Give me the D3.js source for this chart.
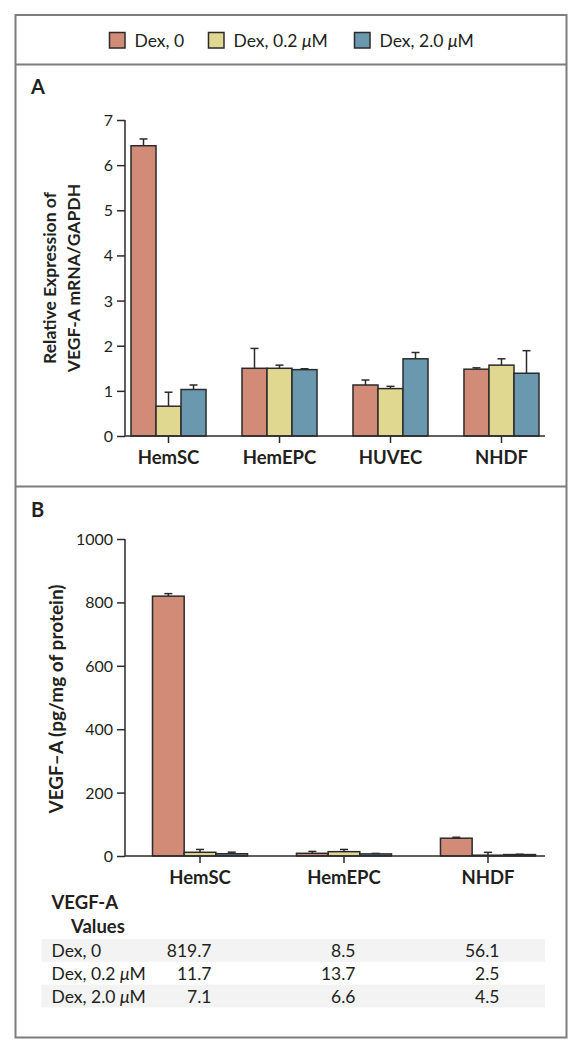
<!DOCTYPE html>
<html>
<head>
<meta charset="utf-8">
<script src="https://cdn.jsdelivr.net/npm/d3@7"></script>
<style>
  html, body { margin: 0; padding: 0; background: #fff; }
  svg { display: block; }
  text { font-family: Lato, "Open Sans", "DejaVu Sans", sans-serif; fill: #231f20; }
</style>
</head>
<body>
<svg id="chart" width="580" height="1050"></svg>
<script>
// ---------------- DATA ----------------
const seriesNames = ["Dex, 0", "Dex, 0.2 μM", "Dex, 2.0 μM"];
const seriesColors = ["#d18b77", "#e0d790", "#6a98ae"];

// Panel A: relative expression of VEGF-A mRNA/GAPDH
const cellsA = ["HemSC", "HemEPC", "HUVEC", "NHDF"];
const mrnaDex0 = [6.43, 1.50, 1.13, 1.48];
const mrnaDex02 = [0.66, 1.50, 1.05, 1.57];
const mrnaDex20 = [1.03, 1.47, 1.71, 1.39];
const mrnaErrDex0 = [0.15, 0.44, 0.11, 0.03];
const mrnaErrDex02 = [0.31, 0.07, 0.05, 0.14];
const mrnaErrDex20 = [0.10, 0.02, 0.14, 0.50];
const ticksA = [0, 1, 2, 3, 4, 5, 6, 7];

// Panel B: VEGF-A protein (pg/mg of protein)
const cellsB = ["HemSC", "HemEPC", "NHDF"];
const vegfDex0 = [819.7, 8.5, 56.1];
const vegfDex02 = [11.7, 13.7, 2.5];
const vegfDex20 = [7.1, 6.6, 4.5];
const vegfErrDex0 = [8, 6, 3];
const vegfErrDex02 = [9, 7, 9];
const vegfErrDex20 = [5, 1.5, 1];
const ticksB = [0, 200, 400, 600, 800, 1000];

const tableTitle = ["VEGF-A", "Values"];

// ---------------- HELPERS ----------------
const svg = d3.select("#chart");
const ink = "#2b2b2b";

function richText(sel, str) {
  // italicise the micro sign
  const parts = str.split("μ");
  parts.forEach((p, i) => {
    if (p) sel.append("tspan").text(p);
    if (i < parts.length - 1) sel.append("tspan").attr("font-style", "italic").text("μ");
  });
}

// ---------------- FRAME ----------------
const frame = { x0: 15.5, y0: 15, x1: 566.5, y1: 1037.5 };
svg.append("rect")
  .attr("x", frame.x0).attr("y", frame.y0)
  .attr("width", frame.x1 - frame.x0).attr("height", frame.y1 - frame.y0)
  .attr("fill", "none").attr("stroke", "#7d7d7d").attr("stroke-width", 2);
[64.5, 486.5].forEach(y => {
  svg.append("line").attr("x1", frame.x0).attr("x2", frame.x1)
    .attr("y1", y).attr("y2", y).attr("stroke", "#7d7d7d").attr("stroke-width", 2);
});

// ---------------- LEGEND ----------------
const legendX = [109.5, 208.5, 354.5];
const legend = svg.append("g");
seriesNames.forEach((name, i) => {
  legend.append("rect")
    .attr("x", legendX[i]).attr("y", 32.5).attr("width", 15.5).attr("height", 15.5)
    .attr("fill", seriesColors[i]).attr("stroke", ink).attr("stroke-width", 1.5);
  const t = legend.append("text")
    .attr("x", legendX[i] + 25).attr("y", 46.5)
    .attr("font-size", 17.5);
  richText(t, name);
});

// ---------------- GENERIC BAR PANEL ----------------
function drawPanel(opts) {
  const g = svg.append("g");
  const y = d3.scaleLinear().domain(opts.domain).range([opts.yBottom, opts.yTop]);
  const x0 = d3.scaleBand().domain(opts.cats).range(opts.bandRange)
    .paddingInner(opts.paddingInner).paddingOuter(0);
  const x1 = d3.scaleBand().domain(d3.range(3)).range([0, x0.bandwidth()]);

  // panel letter
  g.append("text").attr("x", 31).attr("y", opts.letterY)
    .attr("font-size", 20).attr("font-weight", "bold").text(opts.letter);

  // bars
  opts.series.forEach((vals, s) => {
    const errs = opts.errors[s];
    opts.cats.forEach((c, i) => {
      const bx = x0(c) + x1(s);
      const cx = bx + x1.bandwidth() / 2;
      // error bar (upper only)
      g.append("line").attr("x1", cx).attr("x2", cx)
        .attr("y1", y(vals[i])).attr("y2", y(vals[i] + errs[i]))
        .attr("stroke", ink).attr("stroke-width", 1.5);
      g.append("line").attr("x1", cx - 4).attr("x2", cx + 4)
        .attr("y1", y(vals[i] + errs[i])).attr("y2", y(vals[i] + errs[i]))
        .attr("stroke", ink).attr("stroke-width", 1.5);
      g.append("rect")
        .attr("x", bx).attr("y", y(vals[i]))
        .attr("width", x1.bandwidth()).attr("height", y(0) - y(vals[i]))
        .attr("fill", seriesColors[s]).attr("stroke", ink).attr("stroke-width", 1.5);
    });
  });

  // y axis
  const yAxis = d3.axisLeft(y).tickValues(opts.ticks).tickSize(8).tickPadding(4)
    .tickFormat(d3.format("d"));
  const ya = g.append("g").attr("transform", `translate(${opts.axisX},0)`).call(yAxis);
  ya.select(".domain").attr("stroke", ink).attr("stroke-width", 1.5)
    .attr("d", `M0,${opts.yTop}V${opts.yBottom}`);
  ya.selectAll(".tick line").attr("stroke", ink).attr("stroke-width", 1.5);
  ya.selectAll(".tick text").attr("font-size", 16).attr("font-family", "Lato, sans-serif")
    .attr("fill", "#231f20").attr("dy", "0.34em");

  // x axis line
  g.append("line").attr("x1", opts.axisX).attr("x2", opts.axisXEnd)
    .attr("y1", y(0)).attr("y2", y(0)).attr("stroke", ink).attr("stroke-width", 1.5);
  opts.cats.forEach(c => {
    const cx = x0(c) + x0.bandwidth() / 2;
    g.append("line").attr("x1", cx).attr("x2", cx)
      .attr("y1", y(0)).attr("y2", y(0) + 7).attr("stroke", ink).attr("stroke-width", 1.5);
    g.append("text").attr("x", cx).attr("y", y(0) + 28)
      .attr("text-anchor", "middle").attr("font-size", 18.5).attr("font-weight", "bold")
      .text(c);
  });

  // y title
  opts.yTitle.forEach((line, k) => {
    g.append("text")
      .attr("transform", `translate(${opts.yTitleX[k]},${opts.yTitleCenter}) rotate(-90)`)
      .attr("text-anchor", "middle").attr("font-size", opts.yTitleSize).attr("font-weight", "bold")
      .text(line);
  });
  return { x0, y };
}

// Panel A
drawPanel({
  letter: "A", letterY: 94,
  cats: cellsA,
  series: [mrnaDex0, mrnaDex02, mrnaDex20],
  errors: [mrnaErrDex0, mrnaErrDex02, mrnaErrDex20],
  domain: [0, 7], ticks: ticksA,
  yTop: 120, yBottom: 436,
  axisX: 125, axisXEnd: 545,
  bandRange: [131, 539], paddingInner: 0.324,
  yTitle: ["Relative Expression of", "VEGF-A mRNA/GAPDH"],
  yTitleX: [56, 80], yTitleCenter: 278, yTitleSize: 17.5
});

// Panel B
drawPanel({
  letter: "B", letterY: 517,
  cats: cellsB,
  series: [vegfDex0, vegfDex02, vegfDex20],
  errors: [vegfErrDex0, vegfErrDex02, vegfErrDex20],
  domain: [0, 1000], ticks: ticksB,
  yTop: 539, yBottom: 856,
  axisX: 125, axisXEnd: 545,
  bandRange: [152.5, 535.5], paddingInner: 0.34,
  yTitle: ["VEGF–A (pg/mg of protein)"],
  yTitleX: [63], yTitleCenter: 699, yTitleSize: 19
});

// ---------------- TABLE ----------------
const table = svg.append("g");
table.append("text").attr("x", 51.5).attr("y", 909).attr("font-size", 18.5)
  .attr("font-weight", "bold").text(tableTitle[0]);
table.append("text").attr("x", 71).attr("y", 933).attr("font-size", 18.5)
  .attr("font-weight", "bold").text(tableTitle[1]);

const tableRows = [vegfDex0, vegfDex02, vegfDex20];
const rowTop = 939, rowH = 22.8;
const valueRight = [211.5, 355.5, 499.5];
tableRows.forEach((vals, r) => {
  if (r % 2 === 0) {
    table.append("rect").attr("x", 41.5).attr("y", rowTop + r * rowH)
      .attr("width", 545 - 41.5).attr("height", rowH).attr("fill", "#f3f3f3");
  }
  const by = rowTop + r * rowH + 18.3;
  const t = table.append("text").attr("x", 51.5).attr("y", by).attr("font-size", 17.5);
  richText(t, seriesNames[r]);
  vals.forEach((v, c) => {
    table.append("text").attr("x", valueRight[c]).attr("y", by)
      .attr("text-anchor", "end").attr("font-size", 17.5).text(d3.format(".1f")(v));
  });
});
</script>
</body>
</html>
